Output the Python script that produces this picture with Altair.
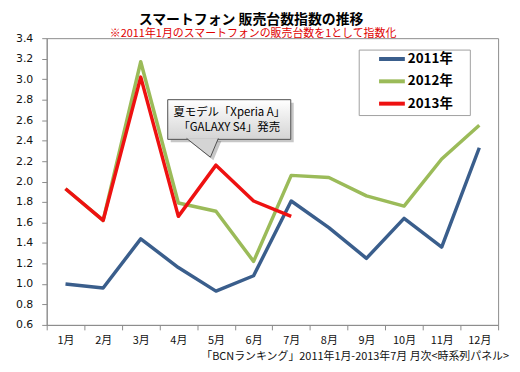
import altair as alt
import pandas as pd

months = ["1月", "2月", "3月", "4月", "5月", "6月", "7月", "8月", "9月", "10月", "11月", "12月"]
years = ["2011年", "2012年", "2013年"]
colors = ["#3a5e8c", "#9bbb59", "#ee1111"]
v2011 = [1.00, 0.96, 1.44, 1.16, 0.93, 1.08, 1.81, 1.55, 1.25, 1.64, 1.36, 2.33]
v2012 = [1.93, 1.62, 3.17, 1.79, 1.71, 1.22, 2.06, 2.04, 1.86, 1.76, 2.22, 2.55]
v2013 = [1.93, 1.62, 3.02, 1.66, 2.16, 1.81, 1.66, None, None, None, None, None]
y_ticks = [0.6, 0.8, 1.0, 1.2, 1.4, 1.6, 1.8, 2.0, 2.2, 2.4, 2.6, 2.8, 3.0, 3.2, 3.4]

title_text = "スマートフォン 販売台数指数の推移"
subtitle_text = "※2011年1月のスマートフォンの販売台数を1として指数化"
footer_text = "「BCNランキング」2011年1月-2013年7月 月次<時系列パネル>"
callout_lines = ["夏モデル「Xperia A」", "「GALAXY S4」発売"]

rows = []
for yr, vals in zip(years, [v2011, v2012, v2013]):
    for m, v in zip(months, vals):
        if v is not None:
            rows.append({"month": m, "year": yr, "value": v})
df = pd.DataFrame(rows)

JP = "Noto Sans CJK JP"
one = pd.DataFrame({"a": [0]})

x_enc = alt.X(
    "month:N", sort=months,
    scale=alt.Scale(type="band", paddingInner=0, paddingOuter=0),
    bandPosition=0.5,
    axis=alt.Axis(title=None, tickBand="extent", labelAngle=0, labelFont=JP,
                  labelFontSize=11, labelColor="#111", labelPadding=5,
                  tickSize=5, domainColor="#8c8c8c", tickColor="#8c8c8c"),
)
y_enc = alt.Y(
    "value:Q",
    scale=alt.Scale(domain=[0.6, 3.4], nice=False, zero=False),
    axis=alt.Axis(title=None, values=y_ticks, format=".1f", grid=False,
                  labelFont="DejaVu Sans", labelFontSize=11, labelColor="#111",
                  labelPadding=9, tickSize=5, domainColor="#8c8c8c", tickColor="#8c8c8c"),
)

layers = []
for i, yr in enumerate(years):
    layers.append(
        alt.Chart(df).transform_filter(alt.datum.year == yr)
        .mark_line(strokeWidth=3.5, strokeJoin="round", color=colors[i])
        .encode(x=x_enc, y=y_enc)
    )

# legend
base1 = alt.Chart(one)
layers.append(base1.mark_rect(fill="white", stroke="#a0a0a0", strokeWidth=1).encode(
    x=alt.value(315), x2=alt.value(427), y=alt.value(12), y2=alt.value(78)))
for i, yr in enumerate(years):
    yy = 21 + 22.5 * i
    layers.append(base1.mark_rule(color=colors[i], strokeWidth=4).encode(
        x=alt.value(335), x2=alt.value(361), y=alt.value(yy)))
    layers.append(base1.mark_text(text=yr, align="left", baseline="middle", font=JP,
                                  fontSize=13.5, fontWeight="bold", color="#000").encode(
        x=alt.value(364), y=alt.value(yy)))

# callout
pointer = "M-1,-0.625 L0.5,0.5625 L1,-0.625"
layers.append(base1.mark_rect(fill="#000", opacity=0.22).encode(
    x=alt.value(125), x2=alt.value(249), y=alt.value(65), y2=alt.value(105)))
layers.append(base1.mark_point(shape=pointer, size=1024, filled=True, fill="#000",
                               opacity=0.22, strokeWidth=0).encode(
    x=alt.value(160), y=alt.value(114)))
grad = alt.Gradient(gradient="linear", x1=0, y1=0, x2=0, y2=1,
                    stops=[alt.GradientStop(color="#ffffff", offset=0),
                           alt.GradientStop(color="#d4d4d4", offset=1)])
layers.append(base1.mark_rect(fill=grad, stroke="#505050", strokeWidth=1).encode(
    x=alt.value(122), x2=alt.value(246), y=alt.value(62), y2=alt.value(102)))
layers.append(base1.mark_point(shape=pointer, size=1024, filled=True, fill="#d4d4d4",
                               stroke="#505050", strokeWidth=1, opacity=1).encode(
    x=alt.value(157), y=alt.value(111)))
for j, line in enumerate(callout_lines):
    layers.append(base1.mark_text(text=line, align="center", baseline="middle", font=JP,
                                  fontSize=11.5, color="#000").encode(
        x=alt.value(184), y=alt.value(75 + 16 * j)))

# titles / footer
layers.append(base1.mark_text(text=title_text, align="center", baseline="middle", font=JP,
                              fontSize=14, fontWeight="bold", color="#000").encode(
    x=alt.value(206), y=alt.value(-18)))
layers.append(base1.mark_text(text=subtitle_text, align="center", baseline="middle", font=JP,
                              fontSize=11, color="#e00000").encode(
    x=alt.value(208), y=alt.value(-4)))
layers.append(base1.mark_text(text=footer_text, align="right", baseline="middle", font=JP,
                              fontSize=11, color="#111").encode(
    x=alt.value(466), y=alt.value(321)))

chart = alt.layer(*layers).properties(
    width=455, height=289,
    autosize=alt.AutoSizeParams(type="none"),
    padding={"left": 39, "top": 29, "right": 14, "bottom": 38},
    background="white",
).configure_view(stroke="#8c8c8c", strokeWidth=1)

chart.save("out.html", embed_options={"renderer": "svg", "actions": False})
